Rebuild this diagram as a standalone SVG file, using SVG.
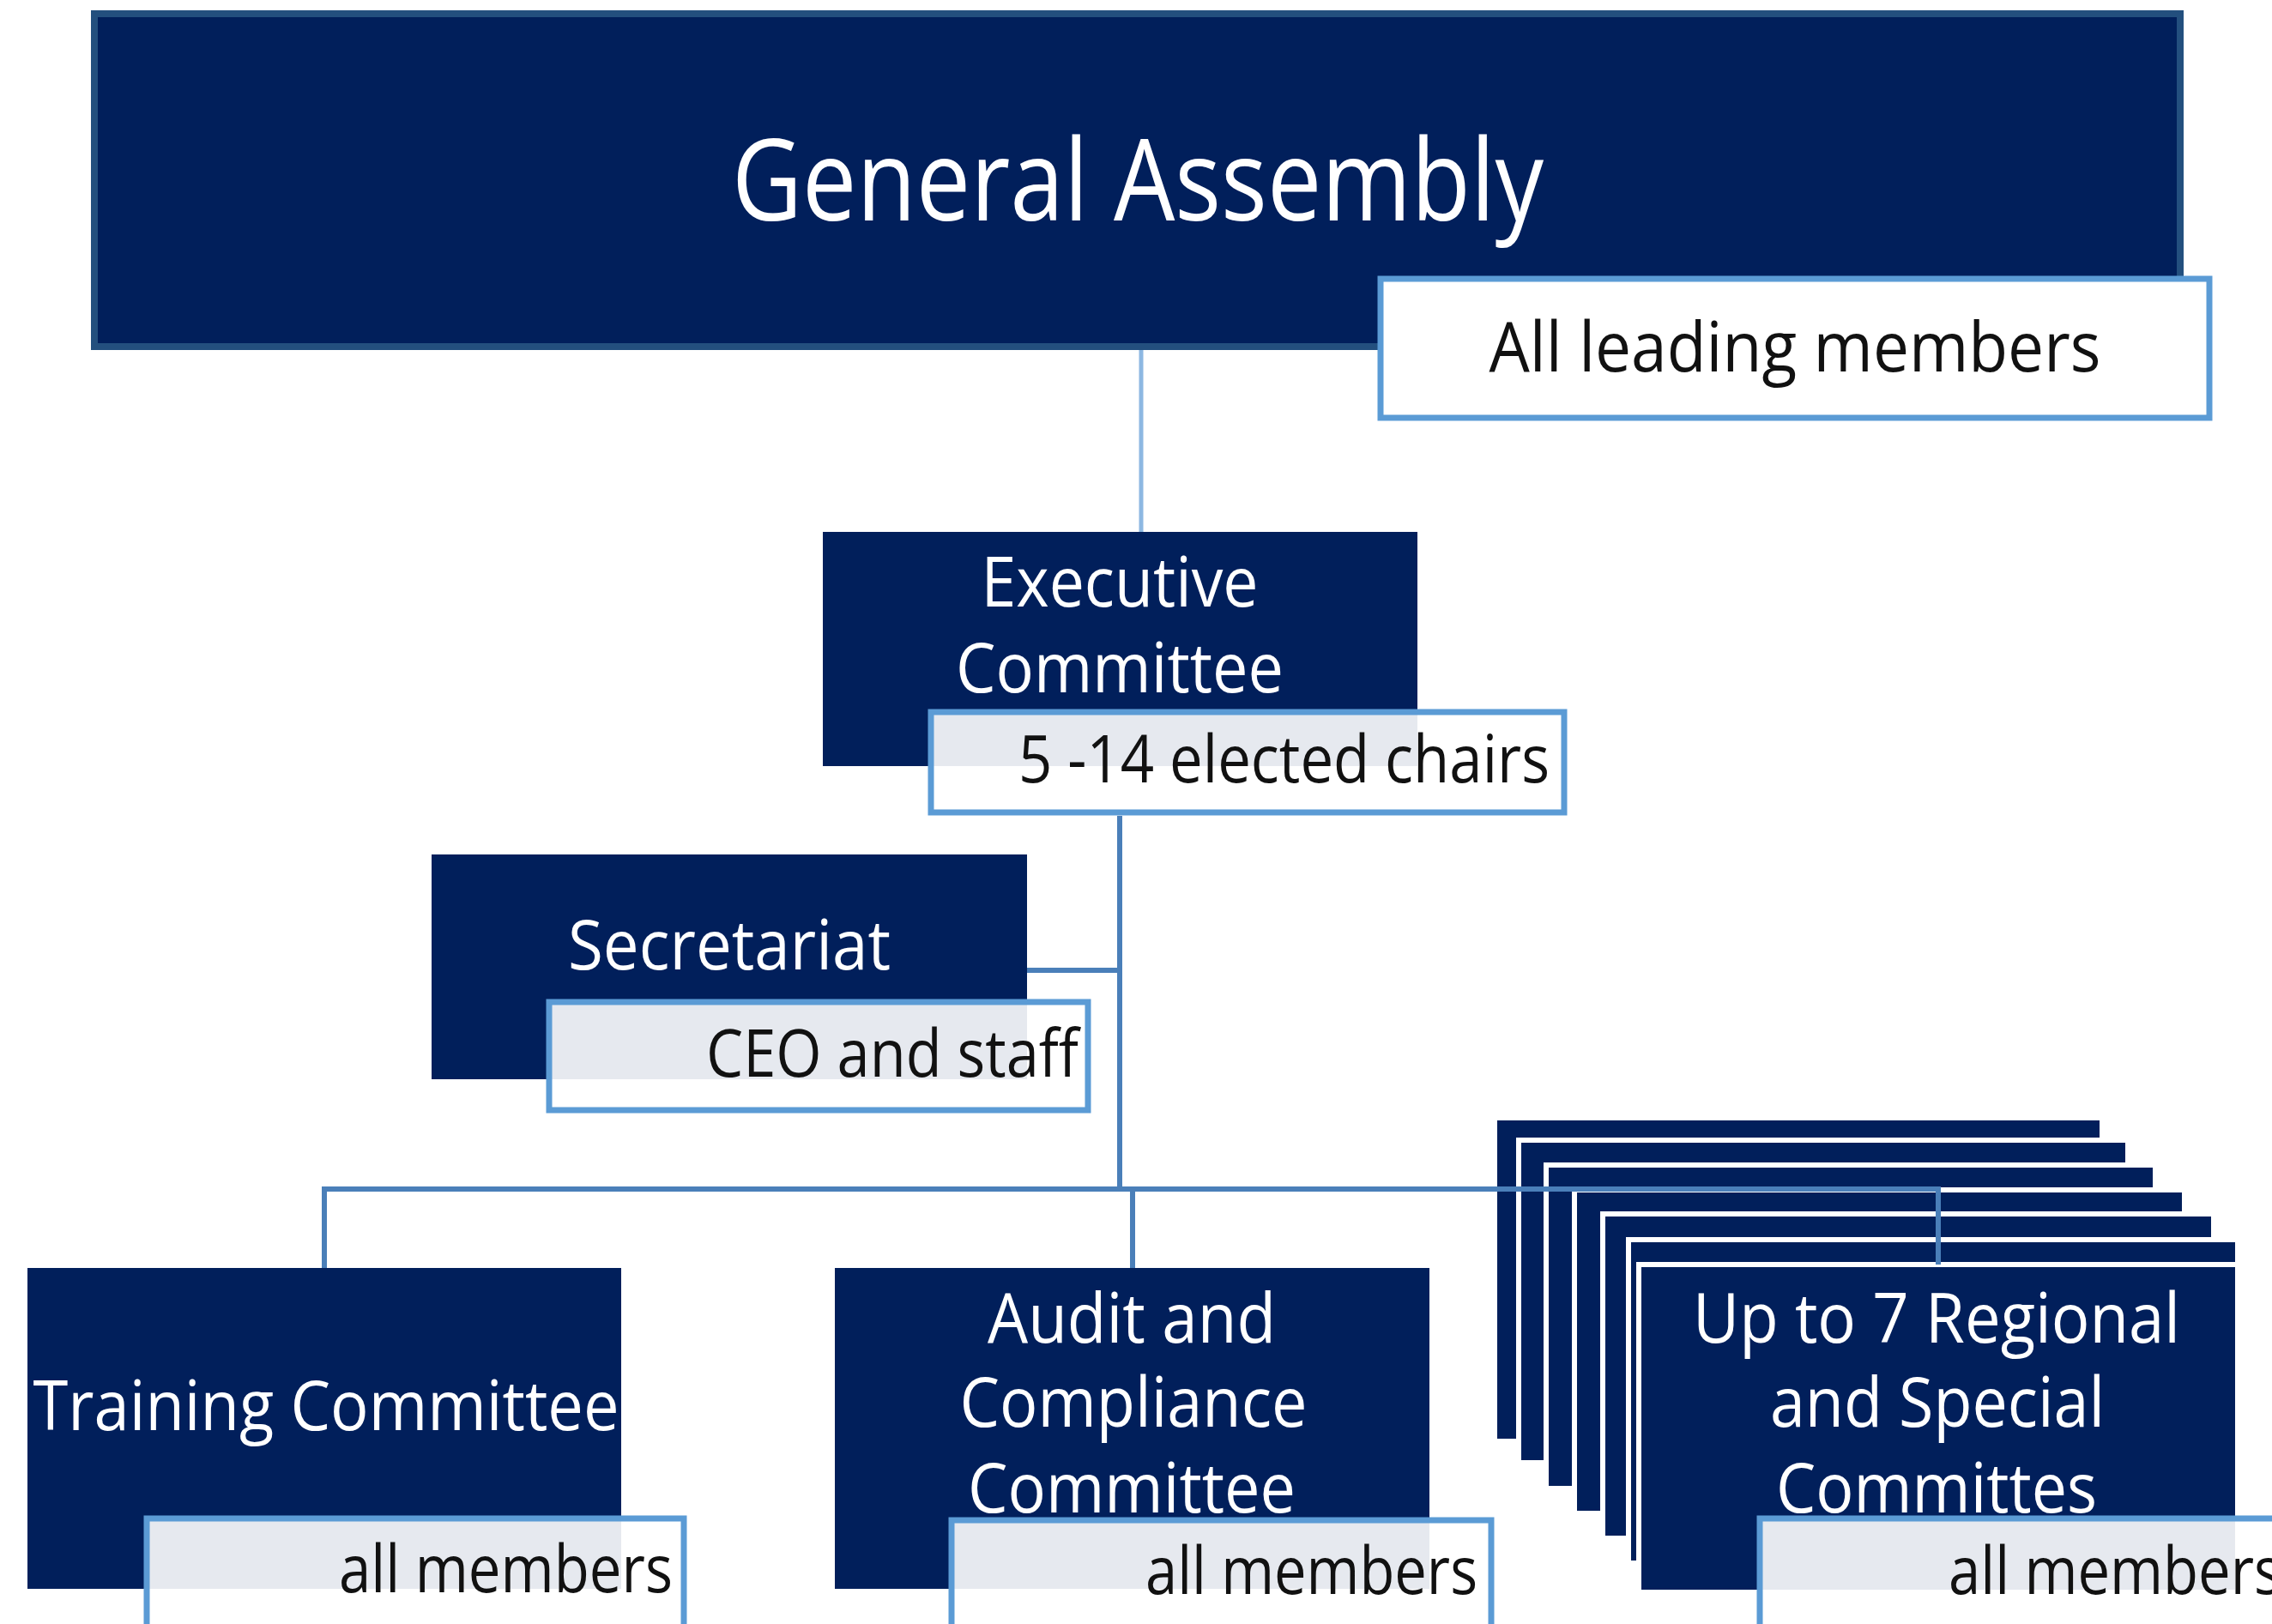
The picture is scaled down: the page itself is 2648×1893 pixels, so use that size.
<svg xmlns="http://www.w3.org/2000/svg" width="2648" height="1893" viewBox="0 0 2648 1893">
<style>
.box{fill:#011f5b}
.stack{fill:#011f5b;stroke:#ffffff;stroke-width:12;paint-order:stroke}
.lbl{fill:#ffffff;fill-opacity:0.9;stroke:#5b9bd5;stroke-width:7}
.t{font-family:"Open Sans","Noto Sans","Liberation Sans",sans-serif;fill:#ffffff;font-size:80px;text-anchor:middle}
.lt{font-family:"Open Sans","Noto Sans","Liberation Sans",sans-serif;fill:#111111;font-size:77px;text-anchor:end}
.conn{fill:none;stroke:#4a7fb9;stroke-width:6}
.conn-top{fill:none;stroke:#8db8e2;stroke-width:5}
</style>
<rect width="2648" height="1893" fill="#ffffff"/>

<g id="general-assembly">
<rect class="box" x="110" y="16" width="2431" height="388" stroke="#234f7e" stroke-width="8"/>
<text class="t" x="1326" y="257" style="font-size:132px" textLength="946" lengthAdjust="spacingAndGlyphs">General Assembly</text>
<rect class="lbl" x="1609" y="325" width="966" height="162" style="fill-opacity:1"/>
<text class="lt" x="2092" y="433" style="font-size:81px;text-anchor:middle" textLength="713" lengthAdjust="spacingAndGlyphs">All leading members</text>
</g>

<g id="executive-committee">
<rect class="box" x="959" y="620" width="693" height="273"/>
<text class="t" x="1305" y="707" textLength="323" lengthAdjust="spacingAndGlyphs">Executive</text>
<text class="t" x="1305" y="807" textLength="382" lengthAdjust="spacingAndGlyphs">Committee</text>
<rect class="lbl" x="1085" y="830" width="738" height="117"/>
<text class="lt" x="1806" y="912" textLength="619" lengthAdjust="spacingAndGlyphs">5 -14 elected chairs</text>
</g>

<g id="secretariat">
<rect class="box" x="503" y="996" width="694" height="262"/>
<text class="t" x="850" y="1130" textLength="376" lengthAdjust="spacingAndGlyphs">Secretariat</text>
<rect class="lbl" x="640" y="1168" width="628" height="126"/>
<text class="lt" x="1257" y="1255" textLength="434" lengthAdjust="spacingAndGlyphs">CEO and staff</text>
</g>

<g id="training-committee">
<rect class="box" x="32" y="1478" width="692" height="374"/>
<text class="t" x="380" y="1667" textLength="683" lengthAdjust="spacingAndGlyphs">Training Committee</text>
<rect class="lbl" x="171" y="1770" width="626" height="140"/>
<text class="lt" x="784" y="1856" textLength="389" lengthAdjust="spacingAndGlyphs">all members</text>
</g>

<g id="audit-compliance-committee">
<rect class="box" x="973" y="1478" width="693" height="374"/>
<text class="t" x="1319" y="1565" textLength="336" lengthAdjust="spacingAndGlyphs">Audit and</text>
<text class="t" x="1321" y="1663" textLength="405" lengthAdjust="spacingAndGlyphs">Compliance</text>
<text class="t" x="1319" y="1763" textLength="382" lengthAdjust="spacingAndGlyphs">Committee</text>
<rect class="lbl" x="1109" y="1772" width="629" height="140"/>
<text class="lt" x="1722" y="1858" textLength="387" lengthAdjust="spacingAndGlyphs">all members</text>
</g>

<g id="regional-special-committees">
<rect class="stack" x="1745" y="1306" width="702" height="371"/>
<rect class="stack" x="1773" y="1332" width="704" height="370"/>
<rect class="stack" x="1805" y="1361" width="704" height="371"/>
<rect class="stack" x="1838" y="1390" width="705" height="371"/>
<rect class="stack" x="1871" y="1418" width="706" height="372"/>
<rect class="stack" x="1901" y="1448" width="704" height="371"/>
<rect class="stack" x="1913" y="1477" width="692" height="376"/>
<text class="t" x="2257" y="1565" textLength="568" lengthAdjust="spacingAndGlyphs">Up to 7 Regional</text>
<text class="t" x="2258" y="1663" textLength="390" lengthAdjust="spacingAndGlyphs">and Special</text>
<text class="t" x="2257" y="1763" textLength="374" lengthAdjust="spacingAndGlyphs">Committes</text>
<rect class="lbl" x="2051" y="1770" width="630" height="140"/>
<text class="lt" x="2271" y="1858" style="text-anchor:start" textLength="388" lengthAdjust="spacingAndGlyphs">all members</text>
</g>

<g id="connectors">
<line class="conn-top" x1="1330" y1="408" x2="1330" y2="620"/>
<line class="conn" x1="1305" y1="951" x2="1305" y2="1386"/>
<line class="conn" x1="1197" y1="1131" x2="1305" y2="1131"/>
<line class="conn" x1="378" y1="1386" x2="2259" y2="1386"/>
<line class="conn" x1="378" y1="1383" x2="378" y2="1478"/>
<line class="conn" x1="1320" y1="1386" x2="1320" y2="1478"/>
<line class="conn" x1="2259" y1="1383" x2="2259" y2="1474"/>
</g>
</svg>
